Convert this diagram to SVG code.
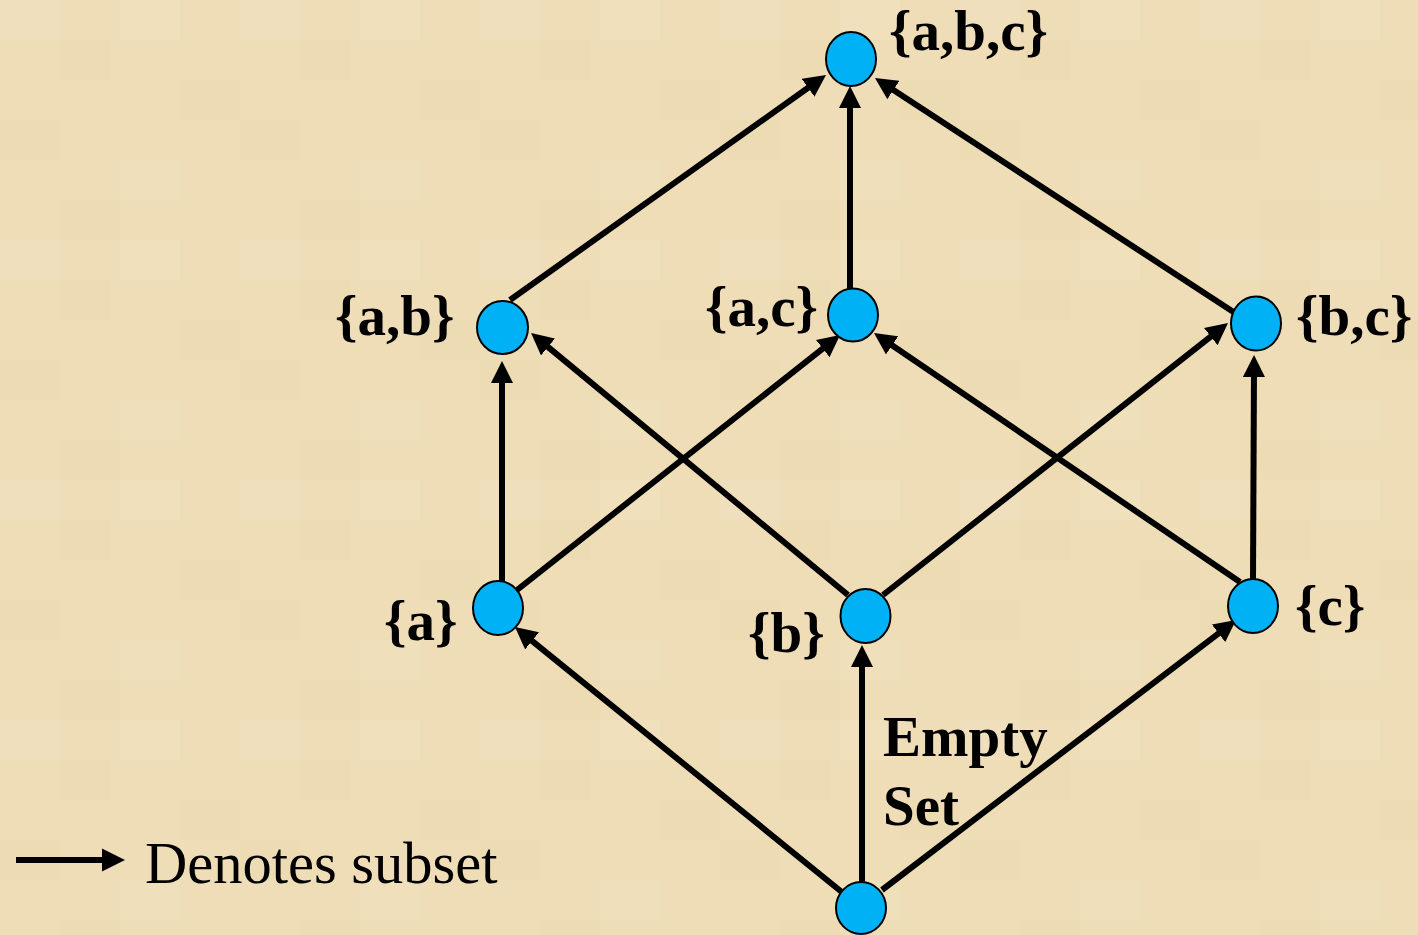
<svg xmlns="http://www.w3.org/2000/svg" width="1418" height="935" viewBox="0 0 1418 935">
<defs>
<pattern id="tex" width="240" height="240" patternUnits="userSpaceOnUse">
<rect width="240" height="240" fill="#EEDDB6"/>
<rect x="0" y="0" width="60" height="40" fill="#F1E2C2" opacity="0.5"/>
<rect x="60" y="40" width="50" height="40" fill="#E9D5AD" opacity="0.35"/>
<rect x="120" y="0" width="60" height="40" fill="#F2E4C6" opacity="0.4"/>
<rect x="180" y="80" width="60" height="40" fill="#EBD7B0" opacity="0.4"/>
<rect x="0" y="120" width="60" height="40" fill="#EAD6AE" opacity="0.35"/>
<rect x="120" y="160" width="60" height="40" fill="#F1E3C4" opacity="0.4"/>
<rect x="60" y="200" width="60" height="40" fill="#EBD6AE" opacity="0.35"/>
</pattern>
<marker id="ah" viewBox="0 0 22 22" refX="10" refY="11" markerWidth="22" markerHeight="22" markerUnits="userSpaceOnUse" orient="auto">
<path d="M0,0 L22,11 L0,22 z" fill="#000"/>
</marker>
<style>
.e{stroke:#000;stroke-width:6;fill:none;marker-end:url(#ah)}
.n{fill:#00B2F5;stroke:#000;stroke-width:2}
.l{font-family:"Liberation Serif","Times New Roman",serif;font-weight:bold;font-size:57px;fill:#000}
.g{font-family:"Liberation Serif","Times New Roman",serif;font-size:58.5px;fill:#000}
</style>
</defs>
<rect width="1418" height="935" fill="url(#tex)"/>
<g id="connectors">
<line class="e" x1="510" y1="300" x2="816.2" y2="82"/>
<line class="e" x1="850" y1="288" x2="850" y2="98"/>
<line class="e" x1="1235" y1="313" x2="885" y2="84.6"/>
<line class="e" x1="502" y1="582" x2="502" y2="373"/>
<line class="e" x1="517" y1="590" x2="830.6" y2="342.4"/>
<line class="e" x1="848" y1="595" x2="540.3" y2="340.6"/>
<line class="e" x1="883" y1="595" x2="1218.6" y2="330.4"/>
<line class="e" x1="1240" y1="582" x2="883.9" y2="339.7"/>
<line class="e" x1="1253" y1="580" x2="1254" y2="367"/>
<line class="e" x1="843" y1="893" x2="524.3" y2="634.6"/>
<line class="e" x1="862" y1="882" x2="862" y2="657"/>
<line class="e" x1="882" y1="890" x2="1226.5" y2="627.3"/>
</g>
<g id="n-abc"><ellipse class="n" cx="851" cy="59" rx="25" ry="27"/><text class="l" x="889" y="50">{a,b,c}</text></g>
<g id="n-ab"><ellipse class="n" cx="502.5" cy="327.5" rx="25.5" ry="26.5"/><text class="l" x="335" y="335">{a,b}</text></g>
<g id="n-ac"><ellipse class="n" cx="853" cy="315" rx="25" ry="26.5"/><text class="l" x="705" y="326">{a,c}</text></g>
<g id="n-bc"><ellipse class="n" cx="1256" cy="323.5" rx="25" ry="27"/><text class="l" x="1296" y="335">{b,c}</text></g>
<g id="n-a"><ellipse class="n" cx="498" cy="608" rx="25" ry="27"/><text class="l" x="384" y="640">{a}</text></g>
<g id="n-b"><ellipse class="n" cx="865.5" cy="616" rx="25" ry="27"/><text class="l" x="748" y="652">{b}</text></g>
<g id="n-c"><ellipse class="n" cx="1253" cy="606" rx="25" ry="27"/><text class="l" x="1295" y="625">{c}</text></g>
<g id="n-empty"><ellipse class="n" cx="861" cy="908" rx="25" ry="26"/><text class="l" x="883" y="756">Empty</text><text class="l" x="883" y="825">Set</text></g>
<g id="legend">
<line x1="16" y1="860" x2="106" y2="860" stroke="#000" stroke-width="6"/>
<path d="M102,848.5 L125,860 L102,871.5 z" fill="#000"/>
<text class="g" x="145" y="883">Denotes subset</text>
</g>
</svg>
